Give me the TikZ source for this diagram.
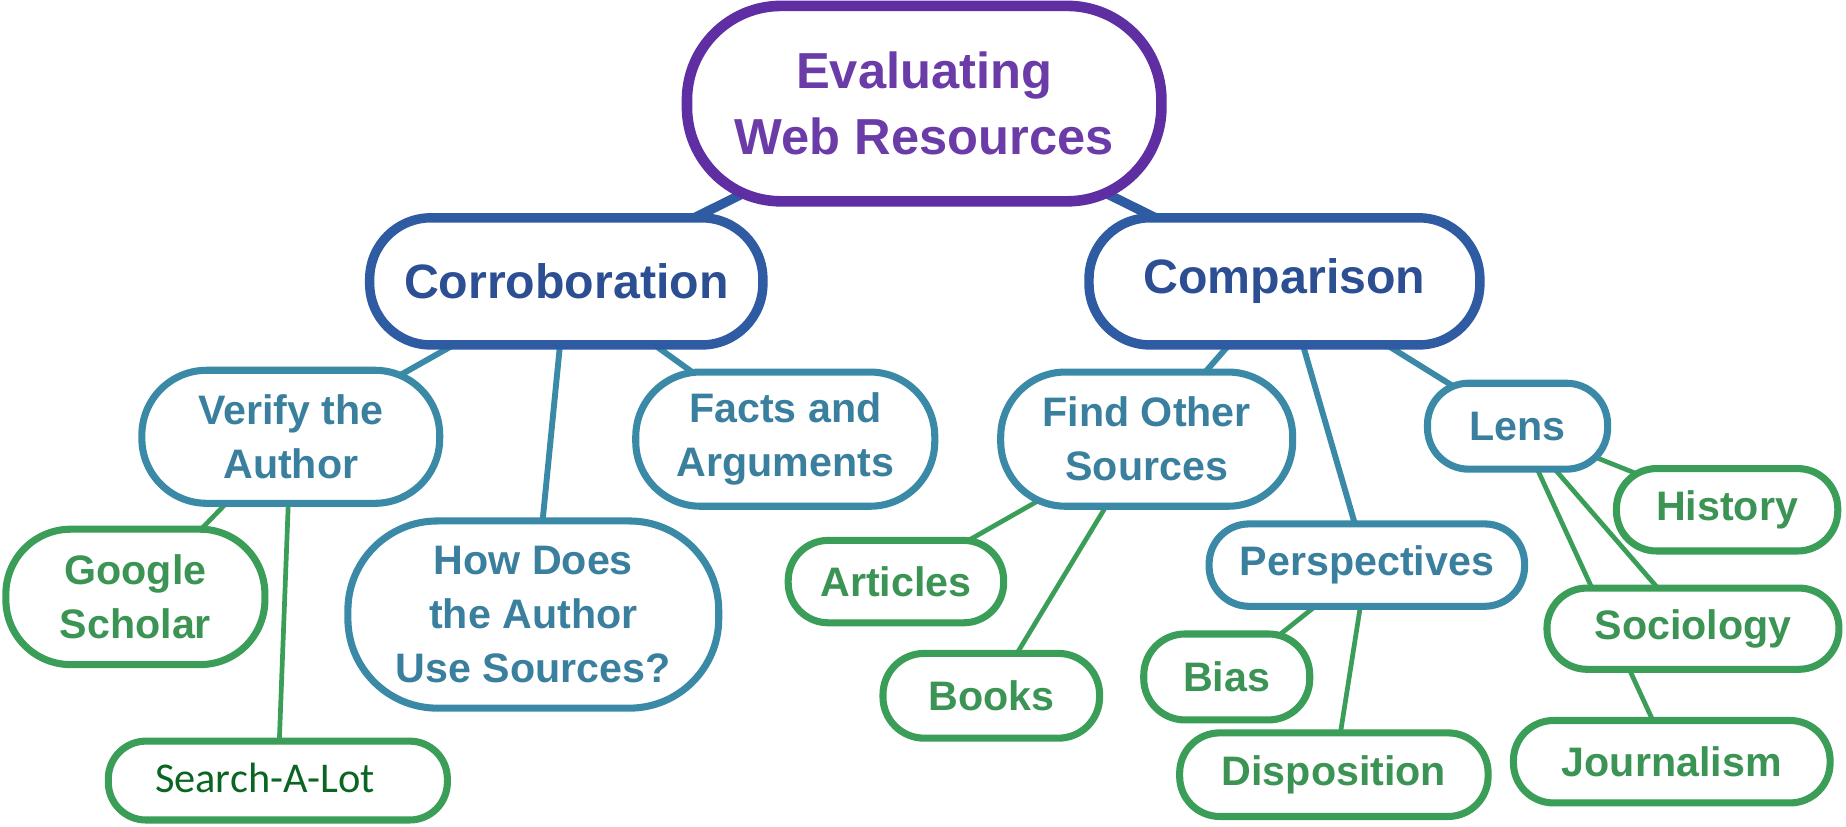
\documentclass[tikz,border=0pt]{standalone}
\usepackage{fontspec}
\setmainfont{Liberation Sans}
\newfontfamily\carl{Carlito}
\usetikzlibrary{backgrounds}
\definecolor{cpur}{HTML}{5F2EA3}
\definecolor{cpurt}{HTML}{6B3BA8}
\definecolor{cblue}{HTML}{2E5BA2}
\definecolor{cbluet}{HTML}{2C4E92}
\definecolor{cteal}{HTML}{3A89A7}
\definecolor{ctealt}{HTML}{3A809E}
\definecolor{cgreen}{HTML}{3A9D58}
\definecolor{cgreent}{HTML}{3B9354}
\definecolor{cdkgreen}{HTML}{0B6522}
\begin{document}
\begin{tikzpicture}[x=1pt,y=-1pt,
  base/.style={draw, fill=white, rectangle, align=center, inner sep=0pt},
  lvlzero/.style={base, draw=cpur, text=cpurt, line width=9pt, font=\bfseries\fontsize{43}{56}\selectfont},
  lvlone/.style={base, draw=cblue, text=cbluet, line width=8pt, font=\bfseries\fontsize{41}{50}\selectfont},
  lvltwo/.style={base, draw=cteal, text=ctealt, line width=6pt, font=\bfseries\fontsize{35}{46}\selectfont},
  lvlthree/.style={base, draw=cgreen, text=cgreent, line width=6pt, font=\bfseries\fontsize{35}{46}\selectfont},
  sz/.style n args={3}{minimum width=#1pt, minimum height=#2pt, rounded corners=#3pt},
  edgeone/.style={draw=cblue, line width=8pt},
  edgetwo/.style={draw=cteal, line width=5pt},
  edgethree/.style={draw=cgreen, line width=4pt}
]
\useasboundingbox (0,0) rectangle (1568,702.45);

\node[lvlzero, sz={403}{166}{80}] (top) at (785,88) {Evaluating\\Web Resources};

\node[lvlone, sz={334}{108}{52}] (corr) at (481,239) {Corroboration};
\node[lvlone, sz={332}{108}{52}] (comp) at (1091,239) {Comparison};

\node[lvltwo, sz={253}{113}{55}] (verify) at (247,371) {Verify the\\Author};
\node[lvltwo, sz={254}{114}{55}] (facts) at (667,373) {Facts and\\Arguments};
\node[lvltwo, sz={315}{159}{76}] (how) at (453,522) {How Does\\the Author\\Use Sources?};
\node[lvltwo, sz={248}{114}{55}] (find) at (974,373) {Find Other\\Sources};
\node[lvltwo, sz={153}{73}{35}] (lens) at (1289,362) {Lens};
\node[lvltwo, sz={268}{70}{34}] (persp) at (1161,480) {Perspectives};

\node[lvlthree, sz={220}{115}{55}] (google) at (115,507) {Google\\Scholar};
\node[lvlthree, sz={288}{67}{32}, font=\carl\fontsize{36}{40}\selectfont, text=cdkgreen] (search) at (236,663) {\raisebox{5pt}{Search-A-Lot}\hspace*{22pt}};
\node[lvlthree, sz={183}{70}{34}] (articles) at (761,494) {Articles};
\node[lvlthree, sz={184}{72}{35}] (books) at (842,591) {Books};
\node[lvlthree, sz={141}{73}{35}] (bias) at (1042,575) {Bias};
\node[lvlthree, sz={262}{71}{34}] (dispo) at (1133,658) {Disposition};
\node[lvlthree, sz={188}{70}{34}] (history) at (1467,433) {History};
\node[lvlthree, sz={248}{69}{34}] (socio) at (1438,534) {Sociology};
\node[lvlthree, sz={269}{70}{34}] (journ) at (1420,647) {Journalism};

\begin{scope}[on background layer]
  \fill[white] (0,0) rectangle (1568,702.45);
  \draw[edgeone] (top.center) -- (corr.center);
  \draw[edgeone] (top.center) -- (comp.center);
  \draw[edgetwo] (corr.center) -- (verify.center);
  \draw[edgetwo] (corr.center) -- (how.center);
  \draw[edgetwo] (corr.center) -- (facts.center);
  \draw[edgetwo] (comp.center) -- (find.center);
  \draw[edgetwo] (comp.center) -- (persp.center);
  \draw[edgetwo] (comp.center) -- (lens.center);
  \draw[edgethree] (verify.center) -- (google.center);
  \draw[edgethree] (verify.center) -- (search.center);
  \draw[edgethree] (find.center) -- (articles.center);
  \draw[edgethree] (find.center) -- (books.center);
  \draw[edgethree] (persp.center) -- (bias.center);
  \draw[edgethree] (persp.center) -- (dispo.center);
  \draw[edgethree] (lens.center) -- (history.center);
  \draw[edgethree] (lens.center) -- (socio.center);
  \draw[edgethree] (lens.center) -- (journ.center);
\end{scope}
\end{tikzpicture}
\end{document}
